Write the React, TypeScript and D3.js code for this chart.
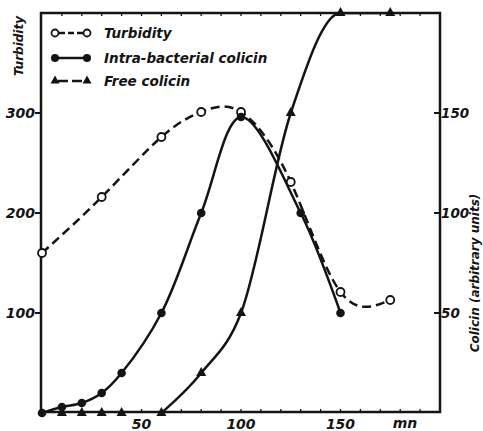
import React from "react";
import * as d3 from "d3";

const turbX = [0, 30, 60, 80, 100, 125, 150, 175];
const turbY = [160, 216, 276, 301, 301, 231, 121, 113];

const intraX = [0, 10, 20, 30, 40, 60, 80, 100, 130, 150];
const intraY = [0, 3, 5, 10, 20, 50, 100, 148, 100, 50];

const freeX = [10, 20, 30, 40, 60, 80, 100, 125, 150, 175];
const freeY = [0, 0, 0, 0, 0, 20, 50, 150, 200, 200];

const xTickLabels = [50, 100, 150];
const leftTickLabels = [100, 200, 300];
const rightTickLabels = [50, 100, 150];
const minorTicks = d3.range(10, 200, 10);

const legendLabels = ["Turbidity", "Intra-bacterial colicin", "Free colicin"];

const W = 483;
const H = 431;
const L = 41, R = 440, T = 13, B = 412;
const INK = "#141414";
const FONT = "'DejaVu Sans', 'Liberation Sans', sans-serif";

export default function App() {
  const x = d3.scaleLinear().domain([0, 200]).range([L + 1, R]);
  const yL = d3.scaleLinear().domain([0, 400]).range([B + 1, T]);
  const yR = d3.scaleLinear().domain([0, 200]).range([B + 1, T]);

  const turb = turbX.map((v, i) => [v, turbY[i]] as [number, number]);
  const intra = intraX.map((v, i) => [v, intraY[i]] as [number, number]);
  const free = freeX.map((v, i) => [v, freeY[i]] as [number, number]);
  // the free-colicin curve starts at the last zero reading
  let lastZero = 0;
  free.forEach((d, i) => { if (d[1] === 0) lastZero = i; });
  const freeCurve = free.slice(lastZero);

  const turbLine = d3.line<[number, number]>().x(d => x(d[0])).y(d => yL(d[1])).curve(d3.curveNatural);
  const intraLine = d3.line<[number, number]>().x(d => x(d[0])).y(d => yR(d[1])).curve(d3.curveCatmullRom.alpha(0.5));
  const freeLine = d3.line<[number, number]>().x(d => x(d[0])).y(d => yR(d[1])).curve(d3.curveMonotoneX);

  const tri = (cx: number, cy: number, s = 5) => `M${cx},${cy - s} L${cx + s},${cy + s * 0.8} L${cx - s},${cy + s * 0.8} Z`;

  const textStyle: React.CSSProperties = { fontFamily: FONT, fontStyle: "italic", fontWeight: "bold" };

  const legendY = [33, 58, 81];

  return (
    <svg width={W} height={H} style={{ position: "absolute", left: 0, top: 0, background: "#fff" }}>
      <defs>
        <clipPath id="plotClip">
          <rect x={L} y={T} width={R - L} height={B - T} />
        </clipPath>
      </defs>
      {/* frame */}
      <rect x={L} y={T} width={R - L} height={B - T} fill="none" stroke={INK} strokeWidth={2.5} />
      {/* minor ticks bottom and top */}
      {minorTicks.map(t => (
        <g key={"m" + t}>
          <line x1={x(t)} x2={x(t)} y1={B} y2={B - 3} stroke={INK} strokeWidth={1.3} />
          <line x1={x(t)} x2={x(t)} y1={T} y2={T + 3} stroke={INK} strokeWidth={1.3} />
        </g>
      ))}
      {/* left ticks */}
      {leftTickLabels.map(t => (
        <g key={"l" + t}>
          <line x1={L - 6} x2={L} y1={yL(t)} y2={yL(t)} stroke={INK} strokeWidth={2} />
          <text x={L - 6} y={yL(t) + 5} textAnchor="end" fontSize={14} style={textStyle} fill={INK}>{t}</text>
        </g>
      ))}
      {/* right ticks */}
      {rightTickLabels.map(t => (
        <g key={"r" + t}>
          <line x1={R - 6} x2={R} y1={yR(t)} y2={yR(t)} stroke={INK} strokeWidth={2} />
          <text x={R + 1} y={yR(t) + 5} textAnchor="start" fontSize={13.5} style={textStyle} fill={INK}>{t}</text>
        </g>
      ))}
      {/* bottom labels */}
      {xTickLabels.map(t => (
        <text key={"b" + t} x={x(t)} y={429} textAnchor="middle" fontSize={14} style={textStyle} fill={INK}>{t}</text>
      ))}
      <text x={405} y={428} textAnchor="middle" fontSize={14} style={textStyle} fill={INK}>mn</text>
      {/* axis titles */}
      <text transform={`translate(23,46) rotate(-90)`} textAnchor="middle" fontSize={12} style={textStyle} fill={INK}>Turbidity</text>
      <text transform={`translate(479,273) rotate(-90)`} textAnchor="middle" fontSize={12} style={textStyle} fill={INK}>Colicin (arbitrary units)</text>

      {/* curves */}
      <g clipPath="url(#plotClip)">
        <path d={turbLine(turb) ?? ""} fill="none" stroke={INK} strokeWidth={2.5} strokeDasharray="9,5" />
        <path d={intraLine(intra) ?? ""} fill="none" stroke={INK} strokeWidth={2.5} />
        <path d={freeLine(freeCurve) ?? ""} fill="none" stroke={INK} strokeWidth={2.5} />
      </g>

      {/* markers */}
      {turb.map((d, i) => (
        <circle key={"tc" + i} cx={x(d[0])} cy={yL(d[1])} r={4} fill="#fff" stroke={INK} strokeWidth={1.8} />
      ))}
      {intra.map((d, i) => (
        <circle key={"ic" + i} cx={x(d[0])} cy={yR(d[1])} r={4.3} fill={INK} />
      ))}
      {free.map((d, i) => (
        <path key={"fc" + i} d={tri(x(d[0]), yR(d[1]) - 1)} fill={INK} />
      ))}

      {/* legend */}
      <g>
        <line x1={55} x2={87} y1={legendY[0]} y2={legendY[0]} stroke={INK} strokeWidth={2.5} strokeDasharray="6,3" strokeDashoffset={-4} />
        <circle cx={55} cy={legendY[0]} r={3.5} fill="#fff" stroke={INK} strokeWidth={1.8} />
        <circle cx={87} cy={legendY[0]} r={3.5} fill="#fff" stroke={INK} strokeWidth={1.8} />
        <line x1={55} x2={87} y1={legendY[1]} y2={legendY[1]} stroke={INK} strokeWidth={2.5} />
        <circle cx={55} cy={legendY[1]} r={4} fill={INK} />
        <circle cx={87} cy={legendY[1]} r={4} fill={INK} />
        <line x1={55} x2={87} y1={legendY[2]} y2={legendY[2]} stroke={INK} strokeWidth={2.5} strokeDasharray="10,4" strokeDashoffset={-3} />
        <path d={tri(55, legendY[2] - 1, 4.5)} fill={INK} />
        <path d={tri(87, legendY[2] - 1, 4.5)} fill={INK} />
        {legendLabels.map((lab, i) => (
          <text key={lab} x={104} y={legendY[i] + 5} fontSize={13.5} style={textStyle} fill={INK}>{lab}</text>
        ))}
      </g>
    </svg>
  );
}
